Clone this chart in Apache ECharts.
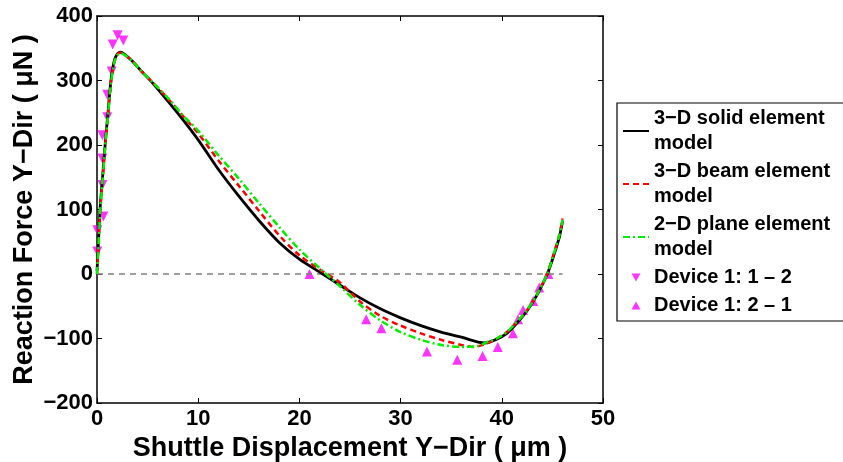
<!DOCTYPE html>
<html lang="en" style="height: 100%;width: 100%">
<head>
    <meta charset="UTF-8">
    <title>Reaction Force</title>
    <script src="https://cdn.jsdelivr.net/npm/echarts@6/dist/echarts.min.js"></script>
</head>
<body style="height: 100%; margin: 0; background: #fff">
<div id="main" style="width: 843px; height: 462px"></div>
<script type="text/javascript">
    // 3-D solid element model
    var solidX = [0, 0.1, 0.3, 0.55, 0.8, 1.1, 1.38, 1.7, 2.0, 2.3, 2.7, 3.5, 4.3, 5.5, 7, 8.5, 10, 12, 14, 16, 18, 20, 22, 24, 26, 28, 30, 32, 34, 36, 38.3, 39.5, 40.5, 41.5, 42.5, 43.5, 44.5, 45.2, 45.7, 46];
    var solidY = [5, 35, 100, 150, 200, 252, 300, 330, 341, 344, 341, 330, 316, 296, 268, 239, 208, 162, 121, 83, 49, 23, 3, -17, -37, -54, -68, -80, -90, -98, -107, -101, -92, -76, -57, -32, 0, 32, 58, 82];
    // 3-D beam element model
    var beamX = [0, 0.1, 0.3, 0.55, 0.8, 1.1, 1.38, 1.7, 2.0, 2.3, 2.7, 3.5, 4.3, 5.5, 7, 8.5, 10, 12, 14, 16, 18, 20, 22, 24, 26, 28, 30, 32, 34, 36, 37.2, 38.3, 39.5, 40.5, 41.5, 42.5, 43.5, 44.5, 45.2, 45.7, 46];
    var beamY = [0, 30, 95, 147, 197, 250, 298, 328, 340, 343, 340, 330, 316, 297, 272, 245, 218, 176, 137, 98, 60, 29, 7, -13, -43, -65, -80, -92, -102, -110, -113, -109, -100, -90, -74, -56, -31, 2, 35, 62, 86];
    // 2-D plane element model
    var planeX = [0, 0.1, 0.3, 0.55, 0.8, 1.1, 1.38, 1.7, 2.0, 2.3, 2.7, 3.5, 4.3, 5.5, 7, 8.5, 10, 12, 14, 16, 18, 20, 22, 24, 26, 28, 30, 32, 34, 36, 37.5, 38.5, 39.5, 40.5, 41.5, 42.5, 43.5, 44.5, 45.2, 45.7, 46];
    var planeY = [0, 28, 92, 145, 195, 248, 296, 327, 339, 342, 340, 330, 316, 297, 273, 246, 222, 184, 148, 110, 73, 38, 9, -19, -48, -72, -90, -102, -110, -113, -112, -106, -100, -90, -74, -56, -31, 1, 34, 61, 84];
    // Device 1: 1 - 2
    var dev12X = [0.03, 0.03, 0.63, 0.53, 0.53, 0.53, 1.02, 1.02, 1.45, 1.55, 2.04, 2.6];
    var dev12Y = [35, 68, 89, 138, 179, 215, 243, 278, 314, 356, 370, 362];
    // Device 1: 2 - 1
    var dev21X = [21.0, 26.6, 28.1, 32.6, 35.6, 38.1, 39.6, 41.1, 41.6, 42.1, 43.1, 43.7, 44.6];
    var dev21Y = [0, -70, -84, -120, -133, -127, -113, -92, -70, -56, -42, -21, 0];
    var zeroX = [0, 46];
    var zeroY = [0, 0];

    var names = ['3\u2212D solid element\nmodel', '3\u2212D beam element\nmodel', '2\u2212D plane element\nmodel', 'Device 1: 1 \u2013 2', 'Device 1: 2 \u2013 1'];

    function pairs(xs, ys) {
        var out = [];
        for (var i = 0; i < xs.length; i++) {
            out.push([xs[i], ys[i]]);
        }
        return out;
    }

    var font = 'Liberation Sans, Arial, Helvetica, sans-serif';
    var chart = echarts.init(document.getElementById('main'));

    var axisLine = {onZero: false, lineStyle: {color: '#000', width: 1.5}};
    var tick = {inside: true, length: 5, lineStyle: {color: '#000', width: 1}};
    var tickLabel = {
        color: '#000', fontFamily: font, fontWeight: 'bold', fontSize: 22,
        formatter: function (v) { return String(v).replace('-', '\u2212'); }
    };
    // small triangle icons for the scatter entries of the legend
    var triUp = 'path://M5,0 L10,9 L0,9 Z';
    var triDown = 'path://M0,0 L10,0 L5,9 Z';
    var noDot = {opacity: 0};

    var option = {
        animation: false,
        backgroundColor: '#fff',
        grid: {left: 97, right: 240, top: 16, bottom: 59, outerBoundsMode: 'none', containLabel: false},
        legend: {
            orient: 'vertical',
            left: 617,
            top: 103,
            padding: [3, 30, 3, 5],
            itemGap: 3,
            itemWidth: 26,
            itemHeight: 8,
            symbolKeepAspect: true,
            borderColor: '#000',
            borderWidth: 1.2,
            backgroundColor: '#fff',
            textStyle: {color: '#000', fontFamily: font, fontWeight: 'bold', fontSize: 20, lineHeight: 25},
            data: [
                {name: names[0], itemStyle: noDot},
                {name: names[1], itemStyle: noDot},
                {name: names[2], itemStyle: noDot},
                {name: names[3], icon: triDown},
                {name: names[4], icon: triUp}
            ]
        },
        xAxis: [{
            type: 'value', position: 'bottom', min: 0, max: 50, interval: 10,
            axisLine: axisLine, axisTick: tick, splitLine: {show: false},
            axisLabel: {color: '#000', fontFamily: font, fontWeight: 'bold', fontSize: 22, margin: 5},
            name: 'Shuttle Displacement Y\u2212Dir ( \u03bcm )', nameLocation: 'middle', nameGap: 27,
            nameTextStyle: {color: '#000', fontFamily: font, fontWeight: 'bold', fontSize: 27}
        }, {
            type: 'value', position: 'top', min: 0, max: 50, interval: 10,
            axisLine: axisLine, axisTick: tick, axisLabel: {show: false}, splitLine: {show: false}
        }],
        yAxis: [{
            type: 'value', position: 'left', min: -200, max: 400, interval: 100,
            axisLine: axisLine, axisTick: tick, splitLine: {show: false},
            axisLabel: Object.assign({margin: 4}, tickLabel),
            name: 'Reaction Force Y\u2212Dir ( \u03bcN )', nameLocation: 'middle', nameGap: 59,
            nameMoveOverlap: false,
            nameTextStyle: {color: '#000', fontFamily: font, fontWeight: 'bold', fontSize: 27}
        }, {
            type: 'value', position: 'right', min: -200, max: 400, interval: 100,
            axisLine: axisLine, axisTick: tick, axisLabel: {show: false}, splitLine: {show: false}
        }],
        series: [{
            type: 'line', data: pairs(zeroX, zeroY), symbol: 'none', silent: true,
            lineStyle: {color: '#808080', width: 1.5, type: [6, 5]}
        }, {
            name: names[0], type: 'line', data: pairs(solidX, solidY), symbol: 'none', smooth: 0.3,
            color: '#000', lineStyle: {color: '#000', width: 2.8}
        }, {
            name: names[1], type: 'line', data: pairs(beamX, beamY), symbol: 'none', smooth: 0.3,
            color: '#ff0000', lineStyle: {color: '#ff0000', width: 2.5, type: [6, 4]}
        }, {
            name: names[2], type: 'line', data: pairs(planeX, planeY), symbol: 'none', smooth: 0.3,
            color: '#00ee00', lineStyle: {color: '#00ee00', width: 2.5, type: [7, 3, 2, 3]}
        }, {
            name: names[3], type: 'scatter', data: pairs(dev12X, dev12Y),
            symbol: 'triangle', symbolRotate: 180, symbolSize: 10,
            itemStyle: {color: '#ff00ff'}
        }, {
            name: names[4], type: 'scatter', data: pairs(dev21X, dev21Y),
            symbol: 'triangle', symbolSize: 10,
            itemStyle: {color: '#ff00ff'}
        }]
    };

    chart.setOption(option, true);
</script>
</body>
</html>
